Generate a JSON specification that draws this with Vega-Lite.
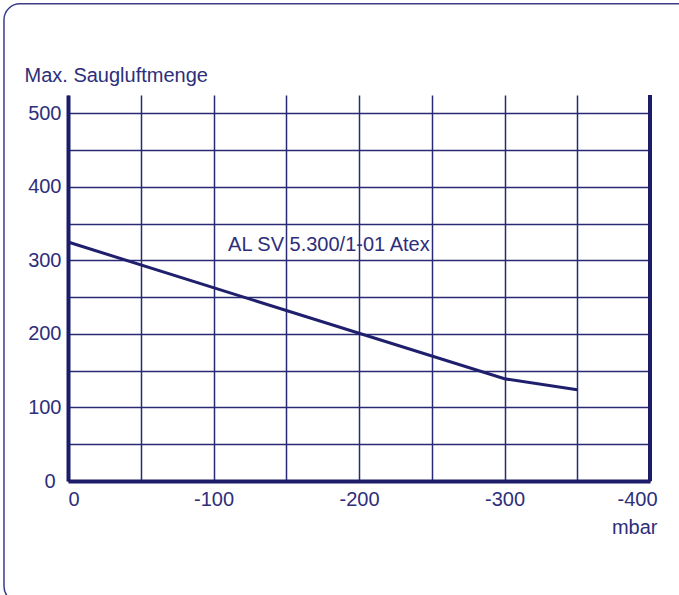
{
  "$schema": "https://vega.github.io/schema/vega-lite/v6.json",
  "autosize": {"type": "none"},
  "width": 582,
  "height": 386,
  "padding": {"left": 68, "top": 95, "right": 29, "bottom": 114},
  "background": "white",
  "config": {
    "view": {"stroke": null},
    "font": "Liberation Sans"
  },
  "encoding": {
    "x": {
      "field": "Unterdruck",
      "type": "quantitative",
      "scale": {"domain": [-400, 0], "reverse": true, "nice": false, "zero": false},
      "axis": {
        "values": [0, -50, -100, -150, -200, -250, -300, -350, -400],
        "labelExpr": "datum.value % 100 == 0 ? '' + datum.value : ''",
        "grid": true,
        "gridColor": "#2a2a74",
        "gridWidth": 1.5,
        "gridOpacity": 1,
        "ticks": false,
        "domainColor": "#1c1c68",
        "domainWidth": 4,
        "labelFont": "Liberation Sans",
        "labelFontSize": 20,
        "labelColor": "#2e2e7a",
        "labelPadding": 8,
        "labelFlush": true,
        "labelOffset": {"condition": {"test": "datum.value == -400", "value": 7}, "value": 0},
        "title": "mbar",
        "titleFont": "Liberation Sans",
        "titleFontSize": 20,
        "titleFontWeight": "normal",
        "titleColor": "#2e2e7a",
        "titleX": 589,
        "titleY": 46,
        "titleAlign": "right",
        "titleBaseline": "middle"
      }
    },
    "y": {
      "field": "Luftmenge",
      "type": "quantitative",
      "scale": {"domain": [0, 525], "nice": false, "zero": false},
      "axis": {
        "values": [0, 50, 100, 150, 200, 250, 300, 350, 400, 450, 500],
        "labelExpr": "datum.value % 100 == 0 ? '' + datum.value : ''",
        "grid": true,
        "gridColor": "#2a2a74",
        "gridWidth": 1.5,
        "gridOpacity": 1,
        "ticks": false,
        "domainColor": "#1c1c68",
        "domainWidth": 4,
        "labelFont": "Liberation Sans",
        "labelFontSize": 20,
        "labelColor": "#2e2e7a",
        "labelPadding": {"condition": {"test": "datum.value == 0", "value": 13}, "value": 7},
        "labelBaseline": "middle",
        "labelOverlap": false,
        "title": "Max. Saugluftmenge",
        "titleFont": "Liberation Sans",
        "titleFontSize": 20,
        "titleFontWeight": "normal",
        "titleColor": "#2e2e7a",
        "titleAngle": 0,
        "titleX": -44,
        "titleY": -14,
        "titleAlign": "left",
        "titleBaseline": "alphabetic"
      }
    }
  },
  "layer": [
    {
      "data": {"values": [{"Unterdruck": 44, "Unterdruck2": -440, "Luftmenge": 649, "Luftmenge2": -165}]},
      "mark": {"type": "rect", "fill": null, "stroke": "#3c3c86", "strokeWidth": 1.5, "cornerRadius": 16, "clip": false},
      "encoding": {
        "x2": {"field": "Unterdruck2"},
        "y2": {"field": "Luftmenge2"}
      }
    },
    {
      "data": {"values": [{"Unterdruck": -400, "Luftmenge": 0, "Luftmenge2": 525}]},
      "mark": {"type": "rule", "color": "#1c1c68", "strokeWidth": 4},
      "encoding": {
        "y2": {"field": "Luftmenge2"}
      }
    },
    {
      "data": {"values": [
        {"Unterdruck": 0, "Luftmenge": 325},
        {"Unterdruck": -300, "Luftmenge": 139},
        {"Unterdruck": -350, "Luftmenge": 124}
      ]},
      "mark": {"type": "line", "color": "#1f1f6e", "strokeWidth": 3},
      "encoding": {}
    },
    {
      "data": {"values": [{"Unterdruck": -110, "Luftmenge": 313, "Bezeichnung": "AL SV 5.300/1-01 Atex"}]},
      "mark": {"type": "text", "align": "left", "baseline": "alphabetic", "font": "Liberation Sans", "fontSize": 20, "color": "#2e2e7a"},
      "encoding": {
        "text": {"field": "Bezeichnung"}
      }
    }
  ]
}
